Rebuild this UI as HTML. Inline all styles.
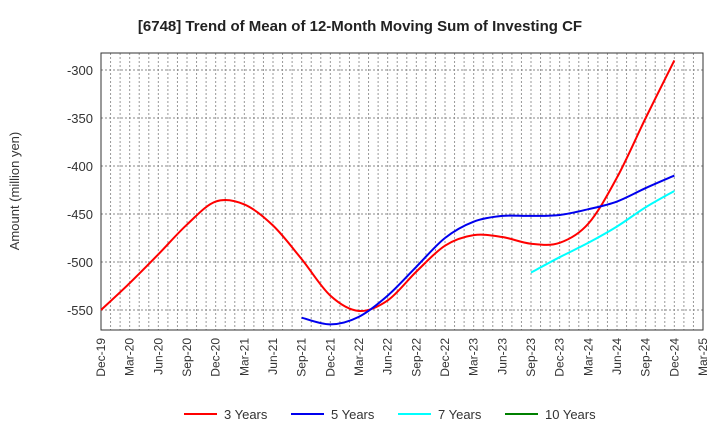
<!DOCTYPE html>
<html><head><meta charset="utf-8"><style>
body{margin:0;background:#fff;font-family:"Liberation Sans",sans-serif}
svg text{font-family:"Liberation Sans",sans-serif}
</style></head><body>
<svg id="chart" width="720" height="440" xmlns="http://www.w3.org/2000/svg">
<text x="360" y="31" text-anchor="middle" font-size="15" font-weight="bold" fill="#222">[6748]  Trend of Mean of 12-Month Moving Sum of Investing CF</text>
<text transform="translate(19,191) rotate(-90)" text-anchor="middle" font-size="13" fill="#333">Amount (million yen)</text>
<g id="grid"></g><g id="axes"></g><g id="series"></g><g id="legend"></g>
</svg>
<script>
const xLabels=["Dec-19","Mar-20","Jun-20","Sep-20","Dec-20","Mar-21","Jun-21","Sep-21","Dec-21","Mar-22","Jun-22","Sep-22","Dec-22","Mar-23","Jun-23","Sep-23","Dec-23","Mar-24","Jun-24","Sep-24","Dec-24","Mar-25"];
const yTicks=[-300,-350,-400,-450,-500,-550];
const s3=[-550,-522,-492,-461,-437,-440,-462,-497,-535,-551,-540,-510,-483,-472,-474,-481,-480,-460,-412,-350,-290];
const s5=[null,null,null,null,null,null,null,-558,-565,-557,-535,-505,-475,-458,-452,-452,-451,-445,-437,-423,-410];
const s7=[null,null,null,null,null,null,null,null,null,null,null,null,null,null,null,-511,-495,-480,-463,-443,-426];
const s10=[];
const seriesNames=["3 Years","5 Years","7 Years","10 Years"];
const colors=["#ff0000","#0000ee","#00ffff","#008000"];
const L=101,R=703,T=53,B=330;
const X=i=>L+(R-L)*i/21;
const Y=v=>70+(-300-v)*0.96;
const NS="http://www.w3.org/2000/svg";
function mk(tag,attrs,parent){const e=document.createElementNS(NS,tag);for(const k in attrs)e.setAttribute(k,attrs[k]);parent.appendChild(e);return e;}
const grid=document.getElementById('grid'),axes=document.getElementById('axes'),ser=document.getElementById('series'),leg=document.getElementById('legend');
for(let m=1;m<63;m++){const x=L+(R-L)*m/63;const l=mk('line',{x1:x,x2:x,y1:T,y2:B,stroke:'#999','stroke-dasharray':'2,2','stroke-width':1},grid);

}
yTicks.forEach(v=>{const l=mk('line',{x1:L,x2:R,y1:Y(v),y2:Y(v),stroke:'#888','stroke-dasharray':'2,2','stroke-width':1},grid);


const t=mk('text',{x:L-8,y:Y(v)+5,'text-anchor':'end','font-size':13,fill:'#333'},axes);t.textContent=v;

});
const fr=mk('rect',{x:L,y:T,width:R-L,height:B-T,fill:'none',stroke:'#333','stroke-width':1},axes);


xLabels.forEach((lab,i)=>{const x=X(i);const t=mk('text',{transform:`translate(${x+4},${B+8}) rotate(-90)`,'text-anchor':'end','font-size':12,fill:'#333'},axes);t.textContent=lab;

});
function path(vals){const p=[];vals.forEach((v,i)=>{if(v!=null)p.push([X(i),Y(v)]);});if(p.length<2)return null;
let d=`M${p[0][0]},${p[0][1]}`;for(let i=0;i<p.length-1;i++){const p0=p[i-1]||p[i],p1=p[i],p2=p[i+1],p3=p[i+2]||p2;
d+=` C${p1[0]+(p2[0]-p0[0])/6},${p1[1]+(p2[1]-p0[1])/6} ${p2[0]-(p3[0]-p1[0])/6},${p2[1]-(p3[1]-p1[1])/6} ${p2[0]},${p2[1]}`;}return d;}
[s3,s5,s7,s10].forEach((s,k)=>{const d=path(s);if(!d)return;const e=mk('path',{d:d,fill:'none',stroke:colors[k],'stroke-width':2},ser);

});
const lx=[184,291,398,505];
seriesNames.forEach((n,k)=>{const g=mk('g',{},leg);


mk('line',{x1:lx[k],x2:lx[k]+33,y1:414,y2:414,stroke:colors[k],'stroke-width':2},g);
const t=mk('text',{x:lx[k]+40,y:419,'font-size':13,fill:'#333'},g);t.textContent=n;});
</script>
</body></html>
